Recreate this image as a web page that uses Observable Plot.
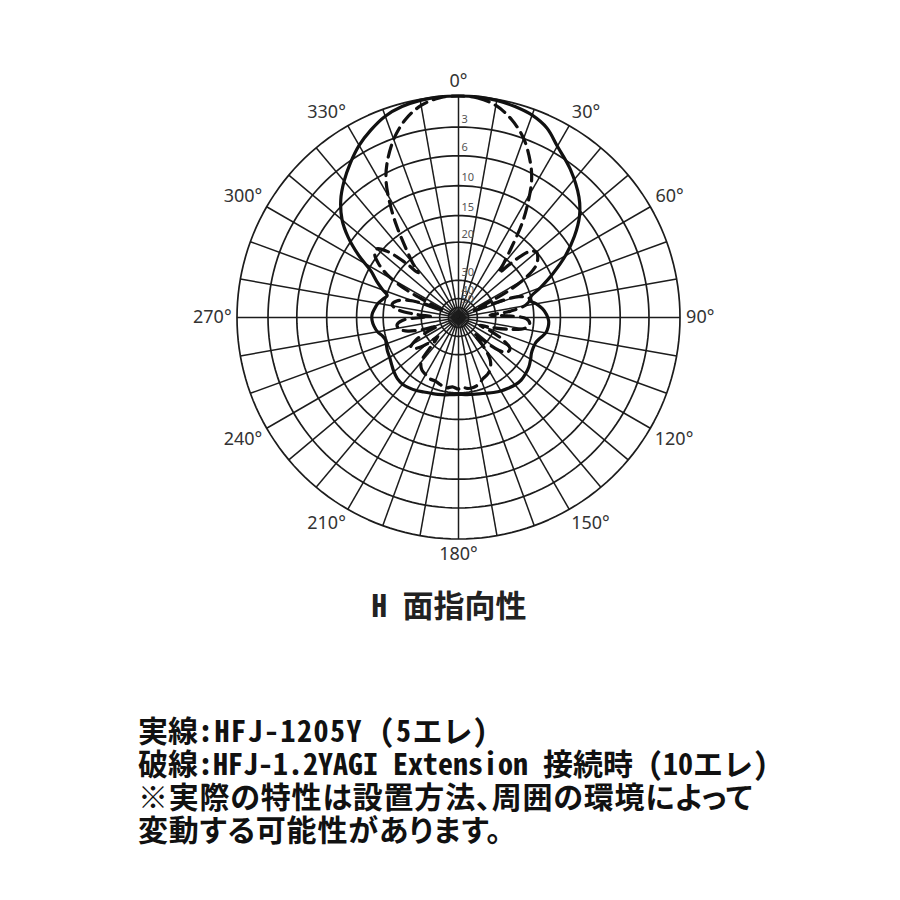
<!DOCTYPE html>
<html>
<head>
<meta charset="utf-8">
<script src="https://cdn.jsdelivr.net/npm/d3@7"></script>
<script src="https://cdn.jsdelivr.net/npm/@observablehq/plot@0.6"></script>
<style>
html, body { margin: 0; padding: 0; background: #fff; }
#wrap { position: relative; width: 900px; height: 900px; overflow: hidden; }
#chart { position: absolute; left: 0; top: 0; }
#title { position: absolute; left: 0; width: 898px; top: 585px; text-align: center;
  font-family: "Noto Sans CJK JP"; font-weight: 700; font-size: 31px; line-height: 38px; color: #222; }
#legend { position: absolute; left: 138px; top: 713px; font-family: "Noto Sans CJK JP";
  font-weight: 700; font-size: 30px; line-height: 33px; color: #111; white-space: nowrap; }
.hw { font-family: "Noto Sans Mono CJK JP", "Noto Sans CJK JP"; font-feature-settings: "hwid" 1; }
.wide { letter-spacing: 1.5px; }
.pa { font-feature-settings: "palt" 1; letter-spacing: 0.8px; }
</style>
</head>
<body>
<div id="wrap">
  <div id="chart"></div>
  <div id="title"><span class="hw">H </span>面指向性</div>
  <div id="legend">
    <div>実線<span class="hw wide">:HFJ-1205Y (5</span>エレ<span class="hw">)</span></div>
    <div>破線<span class="hw">:HFJ-1.2YAGI Extension </span>接続時<span class="hw"> (10</span>エレ<span class="hw">)</span></div>
    <div class="pa">※実際の特性は設置方法、周囲の環境によって</div>
    <div class="pa">変動する可能性があります。</div>
  </div>
</div>
<script>
// ---- data ----
const ringDb = [0, 3, 6, 10, 15, 20, 30, 40, 50, 60];
const ringLabels = [3, 6, 10, 15, 20, 30, 40, 50];
const angleLabels = [0, 30, 60, 90, 120, 150, 180, 210, 240, 270, 300, 330];

// Solid: HFJ-1205Y (5 elements), angle (deg) / attenuation (dB)
const solidAngle = [0,5,10,15,20,25,30,37,45,50,55,60,65,70,74,77,80,84,88,92,96,100,104,108,112,116,120,125,130,135,140,145,150,155,160,165,170,175,180,185,190,195,200,205,210,215,220,225,230,235,240,245,250,253,256,260,264,268,272,276,280,284,287,290,294,298,302,306,310,315,320,325,330,335,340,345,350,355];
const solidDb    = [0,0,0.1,0.3,0.6,1.2,2.3,3.5,5.1,6.5,8.7,11.4,14.6,17.8,20.0,20.4,19.3,18.3,17.6,17.2,17.2,17.5,18.3,18.9,19.0,18.9,18.5,18.0,17.7,17.5,17.6,17.9,18.2,18.6,19.0,19.3,19.5,19.6,19.7,19.6,19.4,19.2,19.0,18.7,18.3,18.0,17.8,17.9,18.3,18.8,19.2,19.4,19.7,19.8,19.5,18.7,18.2,17.9,17.9,18.3,18.8,19.6,20.2,19.0,17.3,15.5,12.3,9.4,7.3,5.5,4.3,3.2,2.2,1.4,0.7,0.3,0.1,0];

// Dashed: with HFJ-1.2YAGI Extension (10 elements)
const dashAngle = [0,5,10,15,20,25,28,31,34,37,40,42,44,47,50,53,56,59,62,64,66,68,71,75,79,83,86,88,91,95,99,103,107,110,113,117,121,125,129,133,136,139,143,148,153,158,163,168,173,177,180,185,190,195,200,205,210,215,220,224,227,230,234,238,242,245,248,251,255,259,263,267,270,272,274,277,281,285,289,292,294,296,298,301,304,307,310,313,316,318,320,323,326,329,332,335,340,345,350,355];
const dashDb    = [0,0.1,0.6,1.6,3.0,5.1,6.8,9.5,13,17.5,21.5,24,20,16,15,15.5,16.5,19,25,36,42,30,23,20.5,21.5,26,33,27,22,21,22,26,32,38,31,26.5,24,24,26,33,38,30,26,24,23,22.5,21.5,21,21,21.5,21,21.5,21,21.5,22,22,22.5,23,24.5,30,35,29,26,25,27,31,38,31,26,24,23.5,25,30,35,29,24,22,23,26,31,41,34,24,18.5,16,14.5,14.2,16,20,24,21,17.5,13.5,9.8,7,5.2,3.1,1.6,0.6,0.1];

// ---- scales & helpers ----
const rad = d3.scaleLinear()
  .domain(ringDb)
  .range([1, 0.86, 0.73, 0.595, 0.46, 0.34, 0.168, 0.085, 0.045, 0.022])
  .clamp(true);
const toRad = a => a * Math.PI / 180;
const px = (a, db) => rad(db) * Math.sin(toRad(a));
const py = (a, db) => rad(db) * Math.cos(toRad(a));

const solid = solidAngle.map((a, i) => ({a, db: solidDb[i]}));
const dashed = dashAngle.map((a, i) => ({a, db: dashDb[i]}));

const ringPts = ringDb.flatMap(db => d3.range(0, 360, 2).map(a => ({db, a})));
const spokes = d3.range(0, 360, 10);

// angle labels sit just outside the outer circle (offset depends on text box)
const R = 221.5;
const sgn = v => (Math.abs(v) < 1e-9 ? 0 : Math.sign(v));
const labX = a => {
  const s = Math.sin(toRad(a)), hw = `${a}°`.length * 5.2;
  return s + sgn(s) * (0.85 * hw + 7 * Math.abs(s)) / R;
};
const labY = a => {
  const c = Math.cos(toRad(a));
  return c + sgn(c) * (7 + 8 * Math.abs(c)) / R;
};

const ink = "#1c1c1c";

const chart = Plot.plot({
  width: 900,
  height: 580,
  margin: 0,
  x: {type: "linear", domain: [-1, 1], range: [458 - R, 458 + R], axis: null},
  y: {type: "linear", domain: [-1, 1], range: [317 + R, 317 - R], axis: null},
  style: {background: "#fff", fontFamily: "Noto Sans", overflow: "visible"},
  marks: [
    Plot.line(ringPts, {x: d => px(d.a, d.db), y: d => py(d.a, d.db), z: "db",
      curve: "linear-closed", stroke: ink, strokeWidth: 1.7}),
    Plot.link(spokes, {x1: 0, y1: 0, x2: a => px(a, 0), y2: a => py(a, 0),
      stroke: ink, strokeWidth: 1.5}),
    Plot.text(ringLabels, {x: 0, y: d => rad(d), text: d => String(d),
      textAnchor: "start", dx: 3, dy: -8, fontSize: 11, fill: "#555"}),
    Plot.text(angleLabels, {x: labX, y: labY,
      text: a => `${a}°`, fontSize: 18, fill: "#333"}),
    Plot.line(dashed, {x: d => px(d.a, d.db), y: d => py(d.a, d.db),
      curve: "catmull-rom-closed", stroke: "#111", strokeWidth: 3.2, strokeDasharray: "12,7"}),
    Plot.line(solid, {x: d => px(d.a, d.db), y: d => py(d.a, d.db),
      curve: "catmull-rom-closed", stroke: "#111", strokeWidth: 3.2})
  ]
});
document.getElementById("chart").appendChild(chart);
</script>
</body>
</html>
